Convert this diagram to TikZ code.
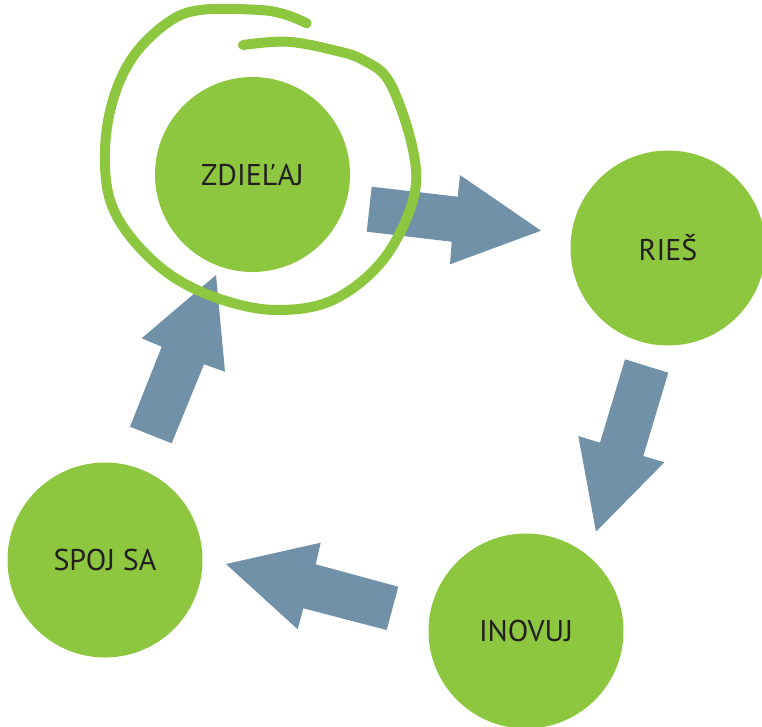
\documentclass[tikz,border=0pt]{standalone}
\usepackage{fontspec}
\setmainfont{PT Sans}
\definecolor{leaf}{RGB}{141,198,63}
\definecolor{steel}{RGB}{112,145,168}
\definecolor{ink}{RGB}{35,31,32}

\begin{document}
\begin{tikzpicture}[x=1pt, y=-1pt,
    step circle/.style = {circle, fill=leaf, minimum size=195pt, inner sep=0pt,
                          text=ink, font=\fontsize{30}{34}\selectfont},
    block arrow/.style = {fill=steel, draw=none}]
    \useasboundingbox (0,0) rectangle (762,726);

    \node[step circle] (Z) at (252.5,174.5) {ZDIEĽAJ};
    \node[step circle] (R) at (668,248) {RIEŠ};
    \node[step circle] (I) at (526,631) {INOVUJ};
    \node[step circle] (S) at (105,560) {SPOJ SA};

    % arrows between the steps
    \fill[block arrow] (371.7,186.7) -- (457.7,196.7) -- (460,175) -- (541,230.7)
        -- (450,264.3) -- (451.7,241.7) -- (366.7,231.7) -- cycle;
    \fill[block arrow] (625,359.3) -- (668.3,372.7) -- (643.3,456) -- (664.3,462.3)
        -- (596,531.7) -- (578.3,436) -- (600,442.7) -- cycle;
    \fill[block arrow] (226,564) -- (320.7,542.7) -- (315.7,564.3) -- (398.3,586.7)
        -- (386.7,630) -- (303.3,608.3) -- (297.7,629.3) -- cycle;
    \fill[block arrow] (216,275) -- (225,371.7) -- (204,364.3) -- (171.7,443.3)
        -- (130,426.7) -- (161.7,346.7) -- (141.7,338.3) -- cycle;

    % hand drawn loop round ZDIELAJ
    \draw[leaf, line width=10pt, line cap=round, line join=round]
        plot[smooth, tension=0.6] coordinates {(306.7,23.3) (286.7,15) (260,10) (200,10)
        (166.7,23.3) (133,56.7) (113,100) (105,150) (110,200) (133,240) (173,276.7)
        (223,300) (277,310) (333,300) (383,260) (413,200) (413,150) (390,83) (363,60)
        (333,50) (287,41.7) (243,45)};
\end{tikzpicture}
\end{document}
